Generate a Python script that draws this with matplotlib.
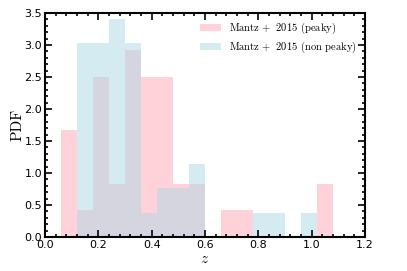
import matplotlib
matplotlib.use("Agg")
import matplotlib.pyplot as plt
from matplotlib.ticker import AutoMinorLocator

# bin edges (width 0.06) and PDF values
bin_left = [0.06, 0.12, 0.18, 0.24, 0.30, 0.36, 0.42, 0.48, 0.54, 0.60,
            0.66, 0.72, 0.78, 0.84, 0.90, 0.96, 1.02]
bin_width = 0.06
pdf_peaky = [1.67, 0.42, 2.50, 0.83, 2.92, 2.50, 2.50, 0.83, 0.83, 0.0,
             0.42, 0.42, 0.0, 0.0, 0.0, 0.0, 0.83]
pdf_nonpeaky = [0.0, 3.03, 3.03, 3.41, 3.03, 0.38, 0.76, 0.76, 1.14, 0.0,
                0.0, 0.0, 0.38, 0.38, 0.0, 0.38, 0.0]

labels = ["Mantz$\\,+$ 2015 (peaky)", "Mantz$\\,+$ 2015 (non peaky)"]

plt.rcParams["mathtext.fontset"] = "cm"

fig = plt.figure(figsize=(4.07, 2.71), dpi=100)
ax = fig.add_axes([45 / 407, 1 - 237 / 271, 320 / 407, 224 / 271])

ax.bar(bin_left, pdf_peaky, width=bin_width, align="edge", color="pink",
       alpha=0.7, linewidth=0, label=labels[0])
ax.bar(bin_left, pdf_nonpeaky, width=bin_width, align="edge", color="lightblue",
       alpha=0.5, linewidth=0, label=labels[1])

ax.set_xlim(0.0, 1.2)
ax.set_ylim(0.0, 3.5)
ax.xaxis.set_minor_locator(AutoMinorLocator(5))
ax.yaxis.set_minor_locator(AutoMinorLocator(5))
ax.tick_params(which="both", direction="in", top=True, right=True,
               labelsize=8, width=1.2, pad=2)
ax.tick_params(which="major", length=5)
ax.tick_params(which="minor", length=2.5)
for s in ax.spines.values():
    s.set_linewidth(1.5)

ax.set_xlabel("$z$", fontsize=11, labelpad=1)
ax.set_ylabel("PDF", fontsize=11, family="cmr10", labelpad=0)

leg = ax.legend(loc="upper right", frameon=False, prop={"family": "cmr10", "size": 7.6},
                handlelength=2.0, handleheight=0.7, borderaxespad=0.35,
                labelspacing=0.35, handletextpad=0.8)

fig.savefig("out.png", dpi=100)
